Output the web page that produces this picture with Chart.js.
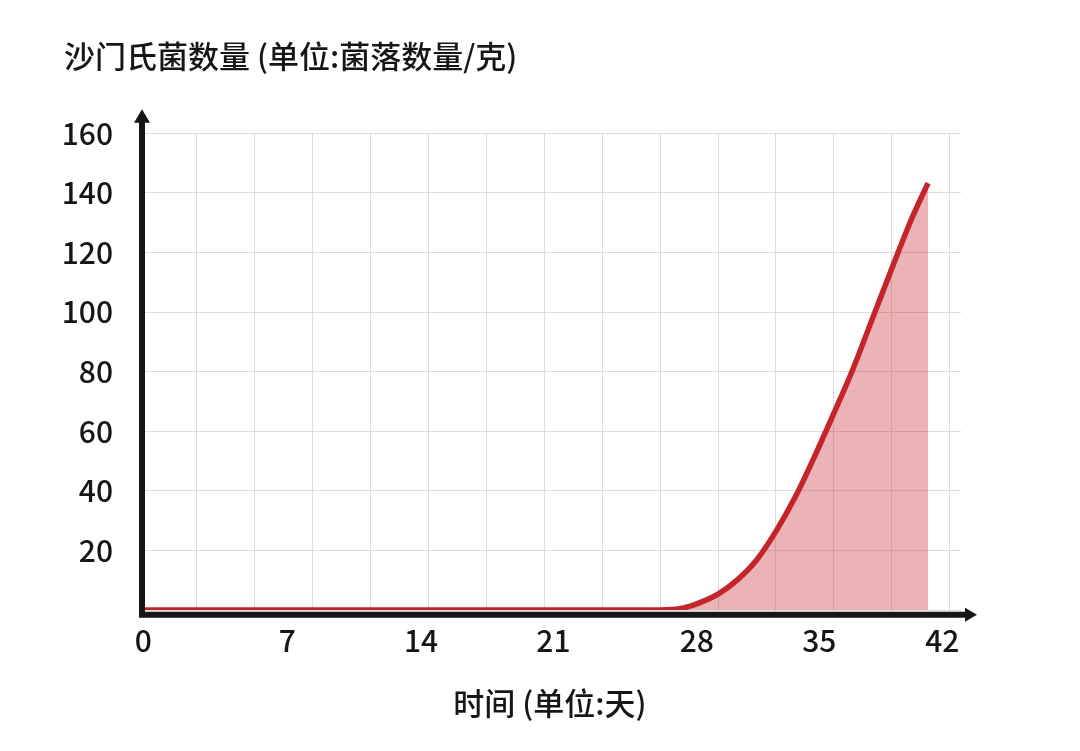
<!DOCTYPE html>
<html>
<head>
<meta charset="utf-8">
<script src="https://cdn.jsdelivr.net/npm/chart.js@4/dist/chart.umd.min.js"></script>
<style>
  html, body { margin: 0; padding: 0; background: #fff; }
  #wrap { width: 1080px; height: 751px; }
</style>
</head>
<body>
<div id="wrap"><canvas id="mycanvas" width="1080" height="751"></canvas></div>
<script>
// days since contamination vs colony count per gram
var days   = [0, 27, 28, 29, 30, 31, 32, 33, 34, 35, 36, 37, 38, 39, 40, 40.88];
var counts = [0, 0, 0.4, 2.3, 5.3, 10.1, 16.8, 26.4, 37.9, 51.5, 66.0, 81.0, 97.8, 114.5, 130.8, 143.3];

// tick labels on the day axis and where they sit in the picture
var xTickLabels = ['0', '7', '14', '21', '28', '35', '42'];
var xTickAt     = [0.22, 7.68, 14.61, 21.47, 28.9, 35.25, 41.62];
// light vertical grid every 3 days
var xGridAt = [3, 6, 9, 12, 15, 18, 21, 24, 27, 30, 33, 36, 39, 42];

var yTicks = [0, 20, 40, 60, 80, 100, 120, 140, 160];

var FONT = '"Noto Sans CJK SC", "Noto Sans", sans-serif';
var INK = '#161616';
var RED = '#c5242b';
var GRID = '#dcdcdc';

var points = [];
for (var i = 0; i < days.length; i++) {
    points.push({x: days[i], y: counts[i]});
}

// black axes with arrow heads, drawn over the data
var arrowAxes = {
    id: 'arrowAxes',
    afterDatasetsDraw: function (chart) {
        var ctx = chart.ctx;
        var a = chart.chartArea;
        var ax = a.left + 3;
        var ay = a.bottom + 4.7;
        ctx.save();
        ctx.strokeStyle = INK;
        ctx.fillStyle = INK;
        ctx.lineWidth = 6;
        ctx.beginPath();
        ctx.moveTo(ax, ay + 3);
        ctx.lineTo(ax, a.top - 12);
        ctx.moveTo(a.left, ay);
        ctx.lineTo(a.right + 5, ay);
        ctx.stroke();
        ctx.beginPath();
        ctx.moveTo(ax, a.top - 24);
        ctx.lineTo(ax - 8, a.top - 10.6);
        ctx.lineTo(ax + 8, a.top - 10.6);
        ctx.closePath();
        ctx.fill();
        ctx.beginPath();
        ctx.moveTo(a.right + 16, ay);
        ctx.lineTo(a.right + 4, ay - 7);
        ctx.lineTo(a.right + 4, ay + 7);
        ctx.closePath();
        ctx.fill();
        ctx.restore();
    }
};

var chartdata = {
    datasets: [
        {
            label: '沙门氏菌数量',
            data: points,
            borderColor: RED,
            borderWidth: 5.5,
            backgroundColor: 'rgba(197,36,43,0.35)',
            fill: 'origin',
            pointRadius: 0,
            cubicInterpolationMode: 'monotone'
        }
    ]
};

var ctx = document.getElementById('mycanvas');

var lineGraph = new Chart(ctx, {
    type: 'line',
    data: chartdata,
    plugins: [arrowAxes],
    options: {
        responsive: false,
        animation: false,
        layout: { padding: { left: 64, right: 119, top: 38, bottom: 0 } },
        plugins: {
            legend: { display: false },
            tooltip: { enabled: false },
            title: {
                display: true,
                text: '沙门氏菌数量 (单位:菌落数量/克)',
                align: 'start',
                color: INK,
                font: { family: FONT, size: 31, weight: 500, lineHeight: 1.2 },
                padding: { top: 0, bottom: 58.1 }
            }
        },
        scales: {
            x: {
                type: 'linear',
                min: 0,
                max: 42.59,
                afterBuildTicks: function (scale) {
                    var t = [];
                    xTickAt.forEach(function (v, i) { t.push({value: v}); });
                    xGridAt.forEach(function (v) { t.push({value: v}); });
                    t.sort(function (p, q) { return p.value - q.value; });
                    scale.ticks = t;
                },
                afterFit: function (scale) { scale.height = 141; },
                ticks: {
                    autoSkip: false,
                    maxRotation: 0,
                    padding: 13,
                    color: INK,
                    font: { family: FONT, size: 30, weight: 500 },
                    callback: function (value) {
                        var k = xTickAt.indexOf(value);
                        return k >= 0 ? xTickLabels[k] : '';
                    }
                },
                grid: {
                    drawTicks: false,
                    lineWidth: 1,
                    color: function (c) {
                        return (c.tick && xGridAt.indexOf(c.tick.value) >= 0) ? GRID : 'rgba(0,0,0,0)';
                    }
                },
                border: { display: false },
                title: {
                    display: true,
                    text: '时间 (单位:天)',
                    color: INK,
                    font: { family: FONT, size: 31, weight: 500, lineHeight: 1.2 },
                    padding: { top: 0, bottom: 29.4 }
                }
            },
            y: {
                min: 0,
                max: 160,
                afterBuildTicks: function (scale) {
                    scale.ticks = yTicks.map(function (v) { return {value: v}; });
                },
                afterFit: function (scale) { scale.width = 75; },
                ticks: {
                    padding: 26,
                    color: INK,
                    font: { family: FONT, size: 30, weight: 500 },
                    callback: function (value) { return value === 0 ? '' : value; }
                },
                grid: { drawTicks: false, color: GRID, lineWidth: 1 },
                border: { display: false }
            }
        }
    }
});
</script>
</body>
</html>
